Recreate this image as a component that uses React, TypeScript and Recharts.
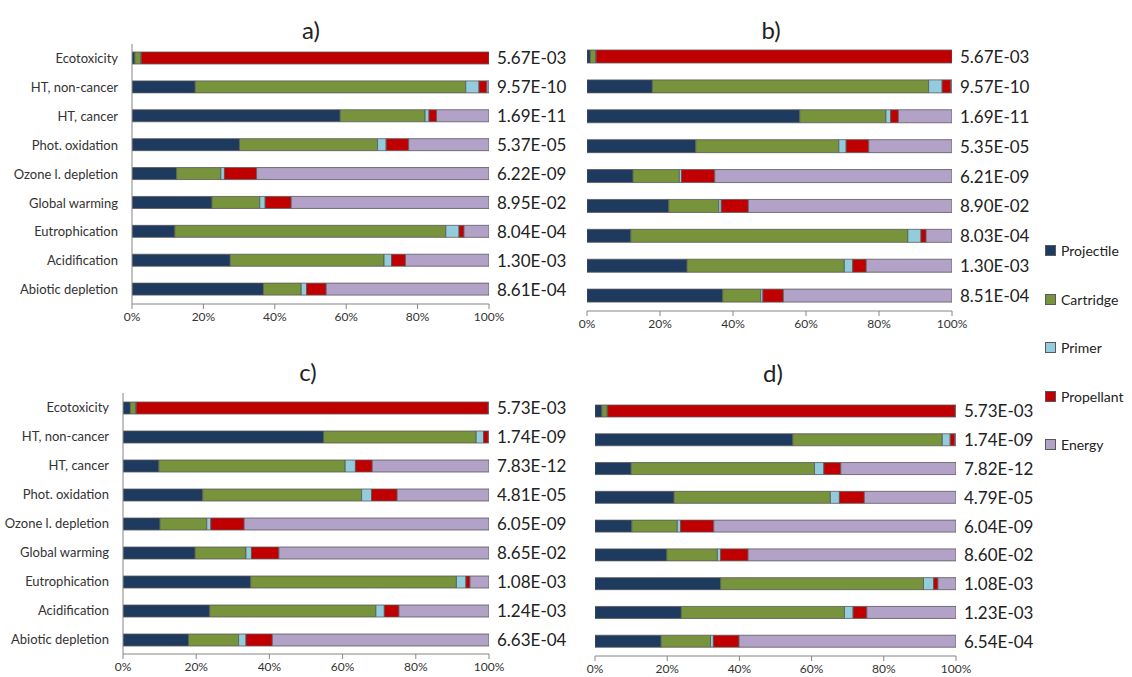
import * as React from 'react';
import { BarChart, Bar, XAxis, YAxis } from 'recharts';

// Impact categories, top to bottom
const categories = [
  'Ecotoxicity',
  'HT, non-cancer',
  'HT, cancer',
  'Phot. oxidation',
  'Ozone l. depletion',
  'Global warming',
  'Eutrophication',
  'Acidification',
  'Abiotic depletion'
];

const seriesNames = ['Projectile', 'Cartridge', 'Primer', 'Propellant', 'Energy'];
const seriesColors = ['#1f3a5f', '#77933c', '#93cddd', '#c00000', '#b3a2c7'];
const xTicks = [0, 20, 40, 60, 80, 100];

// a)
const aProjectile = [0.8, 17.7, 58.3, 30.1, 12.5, 22.4, 12.0, 27.5, 36.8];
const aCartridge = [1.7, 75.8, 23.8, 38.7, 12.4, 13.4, 75.9, 43.1, 10.6];
const aPrimer = [0.1, 3.7, 1.1, 2.4, 1.0, 1.5, 3.7, 2.1, 1.5];
const aPropellant = [97.4, 2.2, 2.1, 6.3, 9.0, 7.3, 1.4, 3.9, 5.5];
const aEnergy = [0, 0.6, 14.7, 22.5, 65.1, 55.4, 7.0, 23.4, 45.6];
const aTotals = ['5.67E-03', '9.57E-10', '1.69E-11', '5.37E-05', '6.22E-09', '8.95E-02', '8.04E-04', '1.30E-03', '8.61E-04'];

// b)
const bProjectile = [0.9, 17.9, 58.3, 29.8, 12.6, 22.4, 12.0, 27.4, 37.2];
const bCartridge = [1.5, 75.7, 23.6, 39.2, 12.7, 13.7, 75.9, 43.1, 10.4];
const bPrimer = [0.1, 3.7, 1.3, 2.0, 0.6, 0.7, 3.6, 2.3, 0.6];
const bPropellant = [97.5, 2.4, 2.1, 6.2, 9.1, 7.4, 1.4, 3.7, 5.6];
const bEnergy = [0, 0.3, 14.7, 22.8, 65.0, 55.8, 7.1, 23.5, 46.2];
const bTotals = ['5.67E-03', '9.57E-10', '1.69E-11', '5.35E-05', '6.21E-09', '8.90E-02', '8.03E-04', '1.30E-03', '8.51E-04'];

// c)
const cProjectile = [2.0, 54.8, 9.8, 21.8, 10.1, 19.7, 34.9, 23.7, 17.9];
const cCartridge = [1.5, 41.7, 50.9, 43.4, 12.8, 13.9, 56.2, 45.4, 13.7];
const cPrimer = [0.1, 2.0, 2.8, 2.7, 1.1, 1.5, 2.6, 2.3, 2.0];
const cPropellant = [96.2, 1.3, 4.6, 7.0, 9.1, 7.5, 1.1, 4.0, 7.2];
const cEnergy = [0.2, 0.2, 31.9, 25.1, 66.9, 57.4, 5.2, 24.6, 59.2];
const cTotals = ['5.73E-03', '1.74E-09', '7.83E-12', '4.81E-05', '6.05E-09', '8.65E-02', '1.08E-03', '1.24E-03', '6.63E-04'];

// d)
const dProjectile = [1.9, 54.8, 10.0, 21.9, 10.2, 19.9, 34.8, 23.9, 18.3];
const dCartridge = [1.5, 41.4, 50.8, 43.3, 12.6, 14.0, 56.2, 45.2, 13.7];
const dPrimer = [0.1, 2.2, 2.6, 2.5, 0.9, 0.9, 2.8, 2.4, 0.8];
const dPropellant = [96.3, 1.3, 4.7, 6.9, 9.2, 7.6, 1.2, 3.8, 7.1];
const dEnergy = [0.2, 0.3, 31.9, 25.4, 67.1, 57.6, 5.0, 24.7, 60.1];
const dTotals = ['5.73E-03', '1.74E-09', '7.82E-12', '4.79E-05', '6.04E-09', '8.60E-02', '1.08E-03', '1.23E-03', '6.54E-04'];

const FONT = 'Lato, "Open Sans", sans-serif';
const AXIS_GREY = '#868686';

function buildRows(series: number[][]) {
  return categories.map((category, i) => {
    const row: any = { category };
    seriesNames.forEach((name, s) => {
      row[name] = series[s][i];
    });
    return row;
  });
}

interface Box { left: number; top: number; width: number; height: number }
interface Plot { left: number; right: number; top: number; bottom: number }

interface PanelProps {
  title: string;
  titleX: number;
  titleY: number;
  box: Box;
  plot: Plot;
  series: number[][];
  totals: string[];
  showCategories: boolean;
  barSize: number;
}

const Panel: React.FC<PanelProps> = ({ title, titleX, titleY, box, plot, series, totals, showCategories, barSize }) => {
  const data = buildRows(series);
  const leftWidth = plot.left - box.left;
  const rightWidth = box.left + box.width - plot.right;
  const xAxisHeight = box.top + box.height - plot.bottom;

  return (
    <>
      <div
        style={{
          position: 'absolute',
          left: titleX - 30,
          top: titleY - 16,
          width: 60,
          textAlign: 'center',
          fontFamily: FONT,
          fontSize: 24,
          lineHeight: '32px',
          color: '#222'
        }}
      >
        {title}
      </div>
      <div style={{ position: 'absolute', left: box.left, top: box.top }}>
        <BarChart
          width={box.width}
          height={box.height}
          layout="vertical"
          data={data}
          margin={{ top: plot.top - box.top, right: 0, bottom: 0, left: showCategories ? 0 : leftWidth }}
        >
          <XAxis
            type="number"
            domain={[0, 100]}
            allowDataOverflow
            ticks={xTicks}
            tickFormatter={(v) => `${v}%`}
            height={xAxisHeight}
            stroke={AXIS_GREY}
            tickSize={5}
            tickMargin={3}
            tick={{ fontSize: 12, fill: '#333', fontFamily: FONT }}
          />
          <YAxis
            yAxisId="left"
            type="category"
            dataKey="category"
            interval={0}
            width={leftWidth}
            hide={!showCategories}
            stroke={AXIS_GREY}
            tickLine={false}
            tickSize={0}
            tickMargin={14}
            tick={{ fontSize: 13, fill: '#333', fontFamily: FONT }}
          />
          <YAxis
            yAxisId="right"
            orientation="right"
            type="category"
            dataKey="category"
            interval={0}
            width={rightWidth}
            axisLine={false}
            tickLine={false}
            tickSize={0}
            tickMargin={8}
            tickFormatter={(_v, i) => totals[i]}
            tick={{ fontSize: 17, fill: '#222', fontFamily: FONT }}
          />
          {seriesNames.map((name, s) => (
            <Bar
              key={name}
              yAxisId="left"
              dataKey={name}
              stackId="total"
              fill={seriesColors[s]}
              stroke="#595959"
              strokeWidth={0.8}
              barSize={barSize}
              isAnimationActive={false}
            />
          ))}
        </BarChart>
      </div>
    </>
  );
};

const legendTops = [250, 299, 347, 396, 444];

export default function App() {
  return (
    <div style={{ position: 'absolute', left: 0, top: 0, width: 1132, height: 677, background: '#fff', overflow: 'hidden' }}>
      <Panel
        title="a)"
        titleX={311}
        titleY={30}
        box={{ left: 0, top: 0, width: 580, height: 330 }}
        plot={{ left: 132, right: 489, top: 44, bottom: 304 }}
        series={[aProjectile, aCartridge, aPrimer, aPropellant, aEnergy]}
        totals={aTotals}
        showCategories
        barSize={12}
      />
      <Panel
        title="b)"
        titleX={771}
        titleY={30}
        box={{ left: 560, top: 0, width: 490, height: 340 }}
        plot={{ left: 587, right: 952, top: 42, bottom: 311 }}
        series={[bProjectile, bCartridge, bPrimer, bPropellant, bEnergy]}
        totals={bTotals}
        showCategories={false}
        barSize={13}
      />
      <Panel
        title="c)"
        titleX={308}
        titleY={372}
        box={{ left: 0, top: 345, width: 580, height: 332 }}
        plot={{ left: 123, right: 489, top: 393, bottom: 654 }}
        series={[cProjectile, cCartridge, cPrimer, cPropellant, cEnergy]}
        totals={cTotals}
        showCategories
        barSize={12}
      />
      <Panel
        title="d)"
        titleX={773}
        titleY={373}
        box={{ left: 560, top: 345, width: 490, height: 332 }}
        plot={{ left: 595, right: 956, top: 397, bottom: 656 }}
        series={[dProjectile, dCartridge, dPrimer, dPropellant, dEnergy]}
        totals={dTotals}
        showCategories={false}
        barSize={12}
      />
      {seriesNames.map((name, s) => (
        <div
          key={name}
          style={{
            position: 'absolute',
            left: 1045,
            top: legendTops[s] - 10,
            height: 20,
            display: 'flex',
            alignItems: 'center',
            fontFamily: FONT,
            fontSize: 14,
            color: '#222'
          }}
        >
          <span
            style={{
              display: 'inline-block',
              width: 9,
              height: 9,
              background: seriesColors[s],
              border: '1px solid #595959',
              marginRight: 5
            }}
          />
          {name}
        </div>
      ))}
    </div>
  );
}
